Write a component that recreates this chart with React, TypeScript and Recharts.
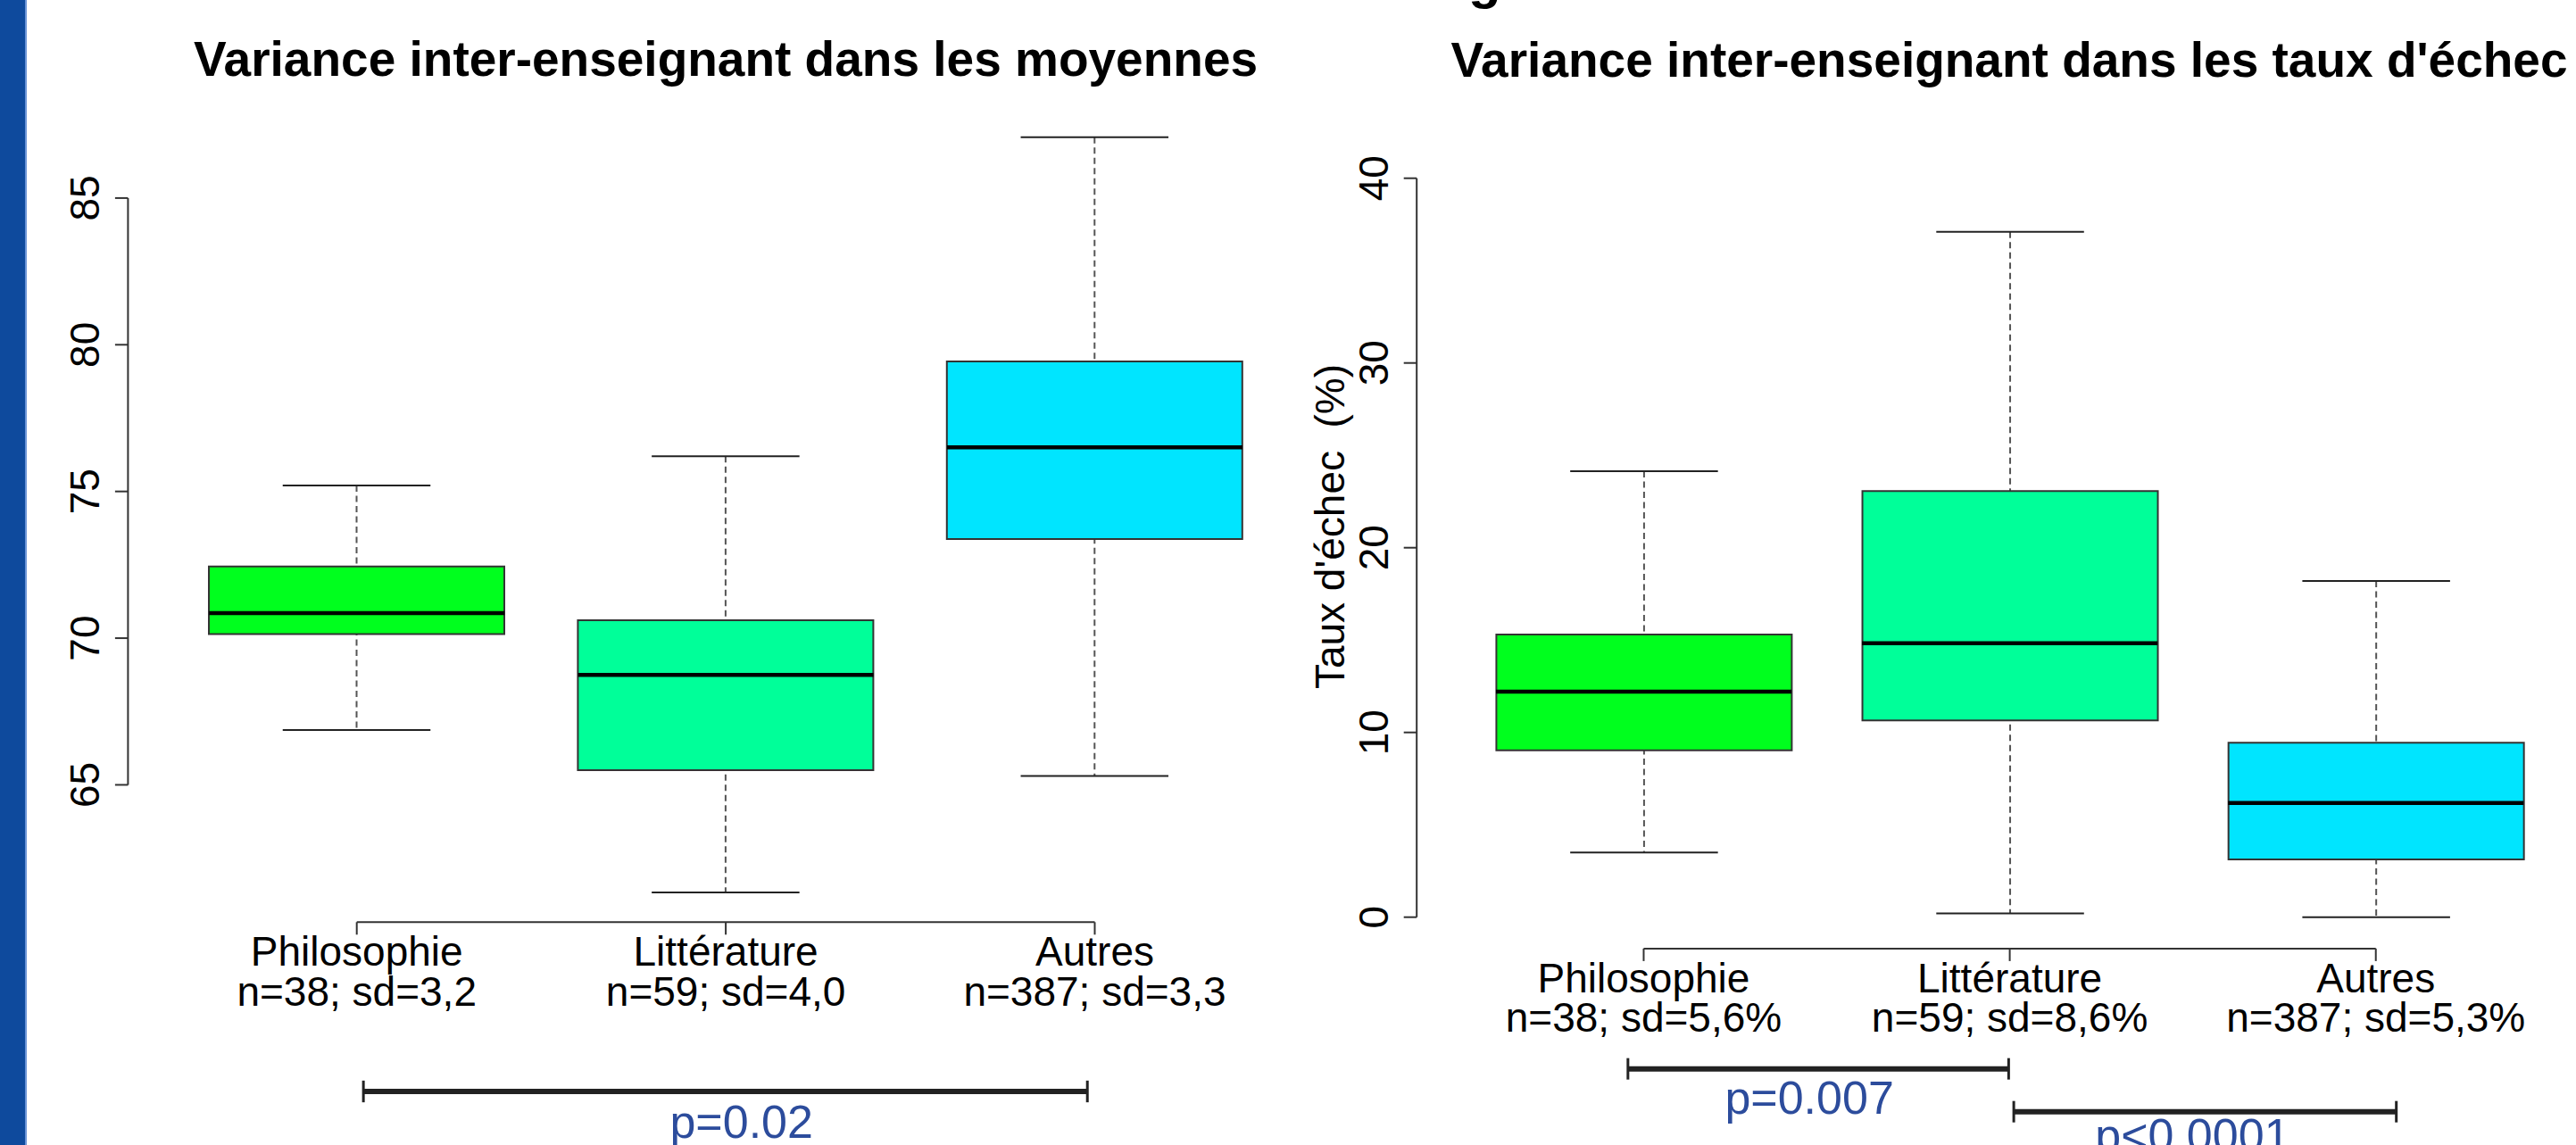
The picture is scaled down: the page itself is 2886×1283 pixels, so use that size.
import React from 'react'
import { ComposedChart, Bar, Scatter, XAxis, YAxis, Cell, ReferenceLine } from 'recharts'

const FONT = '"Liberation Sans", Arial, Helvetica, sans-serif'

const categories = ['Philosophie', 'Littérature', 'Autres']
const boxColors = ['#00ff1e', '#00ff99', '#00e5ff']

// Variance dans les moyennes (left panel)
const moyStats = ['n=38; sd=3,2', 'n=59; sd=4,0', 'n=387; sd=3,3']
const moyMin = [66.87, 61.33, 65.3]
const moyQ1 = [70.14, 65.5, 73.38]
const moyMedian = [70.85, 68.75, 76.5]
const moyQ3 = [72.44, 70.61, 79.43]
const moyMax = [75.2, 76.2, 87.07]
const moyTicks = [65, 70, 75, 80, 85]

// Variance dans les taux d'échec (right panel)
const echStats = ['n=38; sd=5,6%', 'n=59; sd=8,6%', 'n=387; sd=5,3%']
const echMin = [3.5, 0.2, 0]
const echQ1 = [9.03, 10.65, 3.13]
const echMedian = [12.21, 14.83, 6.18]
const echQ3 = [15.3, 23.06, 9.44]
const echMax = [24.14, 37.1, 18.2]
const echTicks = [0, 10, 20, 30, 40]

// p-value brackets (data units)
const moyTests = [{ from: 1.018, to: 2.98, level: 54.55, half: 0.37, p: 'p=0.02', dx: 18, dy: 52 }]
const echTests = [
  { from: 0.957, to: 1.997, level: -8.21, half: 0.58, p: 'p=0.007', dx: -10, dy: 50 },
  { from: 2.011, to: 3.056, level: -10.53, half: 0.58, p: 'p<0.0001', dx: -14, dy: 44 },
]

const X_DOMAIN = [0.38, 3.62]
const BOX_W = 331

function buildRows(mins: number[], q1s: number[], meds: number[], q3s: number[], maxs: number[]) {
  return categories.map((name, i) => ({
    x: i + 1,
    name,
    min: mins[i],
    q1: q1s[i],
    median: meds[i],
    q3: q3s[i],
    max: maxs[i],
  }))
}

const moyData = buildRows(moyMin, moyQ1, moyMedian, moyQ3, moyMax)
const echData = buildRows(echMin, echQ1, echMedian, echQ3, echMax)

function Whisker(props: any) {
  const { x, y, width, height } = props
  if (x == null || y == null) return null
  const top = Math.min(y, y + height)
  const bot = Math.max(y, y + height)
  const cx = x + width / 2
  const cap = width / 4
  return (
    <g>
      <line x1={cx} x2={cx} y1={top} y2={bot} stroke="#555" strokeWidth={2} strokeDasharray="7 4.5" />
      <line x1={cx - cap} x2={cx + cap} y1={top} y2={top} stroke="#222" strokeWidth={2} />
      <line x1={cx - cap} x2={cx + cap} y1={bot} y2={bot} stroke="#222" strokeWidth={2} />
    </g>
  )
}

function MedianMark(props: any) {
  const { cx, cy } = props
  if (cx == null || cy == null) return null
  return <line x1={cx - BOX_W / 2} x2={cx + BOX_W / 2} y1={cy} y2={cy} stroke="#000" strokeWidth={4.5} />
}

function YTick(props: any) {
  const { x, y, payload } = props
  return (
    <g>
      <line x1={x - 14.5} x2={x} y1={y} y2={y} stroke="#333" strokeWidth={2} />
      <text
        x={x - 32}
        y={y}
        transform={`rotate(-90 ${x - 32} ${y})`}
        textAnchor="middle"
        fontSize={46}
        fontFamily={FONT}
        fill="#000"
      >
        {payload.value}
      </text>
    </g>
  )
}

function makeXTick(stats: string[]) {
  return function XTick(props: any) {
    const { x, y, payload } = props
    const i = Math.round(payload.value) - 1
    return (
      <g>
        <text x={x} y={y + 35} textAnchor="middle" fontSize={46} fontFamily={FONT} fill="#000">
          {categories[i]}
        </text>
        <text x={x} y={y + 79.5} textAnchor="middle" fontSize={46} fontFamily={FONT} fill="#000">
          {stats[i]}
        </text>
      </g>
    )
  }
}

function PLabel(props: any) {
  const { viewBox, text, dx, dy } = props
  if (!viewBox) return null
  return (
    <text
      x={viewBox.x + viewBox.width / 2 + dx}
      y={viewBox.y + dy}
      textAnchor="middle"
      fontSize={52}
      fontFamily={FONT}
      fill="#2c4c9c"
    >
      {text}
    </text>
  )
}

interface PanelProps {
  left: number
  width: number
  margin: { top: number; right: number; bottom: number; left: number }
  yAxisWidth: number
  domain: number[]
  ticks: number[]
  data: any[]
  stats: string[]
  tests: typeof echTests
}

function BoxPanel({ left, width, margin, yAxisWidth, domain, ticks, data, stats, tests }: PanelProps) {
  const XTick = makeXTick(stats)
  return (
    <div style={{ position: 'absolute', left, top: 0 }}>
      <ComposedChart width={width} height={1283} data={data} margin={margin}>
        <XAxis
          xAxisId="main"
          dataKey="x"
          type="number"
          domain={X_DOMAIN}
          allowDataOverflow
          ticks={[1, 2, 3]}
          interval={0}
          axisLine={false}
          stroke="#333"
          tickLine={{ stroke: '#333', strokeWidth: 2 }}
          tickSize={14}
          tickMargin={0}
          height={150}
          tick={<XTick />}
        />
        <XAxis xAxisId="w" dataKey="x" type="number" domain={X_DOMAIN} allowDataOverflow hide />
        <YAxis
          type="number"
          domain={domain}
          allowDataOverflow
          ticks={ticks}
          interval={0}
          width={yAxisWidth}
          axisLine={false}
          tickLine={false}
          tickSize={0}
          tickMargin={0}
          tick={<YTick />}
        />
        <Bar
          xAxisId="w"
          dataKey={(d: any) => [d.min, d.max]}
          barSize={BOX_W}
          shape={<Whisker />}
          isAnimationActive={false}
        />
        <Bar
          xAxisId="main"
          dataKey={(d: any) => [d.q1, d.q3]}
          barSize={BOX_W}
          stroke="#333"
          strokeWidth={2}
          isAnimationActive={false}
        >
          {data.map((d, i) => (
            <Cell key={d.name} fill={boxColors[i]} />
          ))}
        </Bar>
        <Scatter xAxisId="main" dataKey="median" shape={<MedianMark />} isAnimationActive={false} />
        <ReferenceLine
          xAxisId="main"
          segment={[
            { x: X_DOMAIN[0], y: ticks[0] },
            { x: X_DOMAIN[0], y: ticks[ticks.length - 1] },
          ]}
          stroke="#333"
          strokeWidth={2}
          ifOverflow="visible"
        />
        <ReferenceLine
          xAxisId="main"
          segment={[
            { x: 1, y: domain[0] },
            { x: 3, y: domain[0] },
          ]}
          stroke="#333"
          strokeWidth={2}
          ifOverflow="visible"
        />
        {tests.map((t) => (
          <ReferenceLine
            key={t.p}
            xAxisId="main"
            segment={[
              { x: t.from, y: t.level },
              { x: t.to, y: t.level },
            ]}
            stroke="#222"
            strokeWidth={6}
            ifOverflow="visible"
            label={<PLabel text={t.p} dx={t.dx} dy={t.dy} />}
          />
        ))}
        {tests.flatMap((t) =>
          [t.from, t.to].map((xv) => (
            <ReferenceLine
              key={`${t.p}-${xv}`}
              xAxisId="main"
              segment={[
                { x: xv, y: t.level - t.half },
                { x: xv, y: t.level + t.half },
              ]}
              stroke="#222"
              strokeWidth={3}
              ifOverflow="visible"
            />
          ))
        )}
      </ComposedChart>
    </div>
  )
}

export default function App() {
  return (
    <div
      style={{
        position: 'absolute',
        left: 0,
        top: 0,
        width: 2886,
        height: 1283,
        overflow: 'hidden',
        background: '#fff',
        fontFamily: FONT,
      }}
    >
      <BoxPanel
        left={0}
        width={1500}
        margin={{ top: 120, right: 17.2, bottom: 99.7, left: 0 }}
        yAxisWidth={143.4}
        domain={[60.32, 88.1]}
        ticks={moyTicks}
        data={moyData}
        stats={moyStats}
        tests={moyTests}
      />
      <BoxPanel
        left={1400}
        width={1516}
        margin={{ top: 166.6, right: 0, bottom: 70.1, left: 0 }}
        yAxisWidth={187.2}
        domain={[-1.7, 41.6]}
        ticks={echTicks}
        data={echData}
        stats={echStats}
        tests={echTests}
      />
      <svg
        width={2886}
        height={1283}
        style={{ position: 'absolute', left: 0, top: 0, pointerEvents: 'none' }}
      >
        <rect x={0} y={0} width={28} height={1283} fill="#0e4a9d" />
        <line x1={29} x2={29} y1={0} y2={1283} stroke="#6b95d8" strokeWidth={2} />
        <text x={1645} y={-2} fontSize={60} fontWeight="bold" fontFamily={FONT} fill="#000">
          g
        </text>
        <text x={813} y={85} textAnchor="middle" fontSize={55} fontWeight="bold" fontFamily={FONT} fill="#000">
          Variance inter-enseignant dans les moyennes
        </text>
        <text x={2251} y={86} textAnchor="middle" fontSize={55} fontWeight="bold" fontFamily={FONT} fill="#000">
          Variance inter-enseignant dans les taux d'échec
        </text>
        <text
          x={1506}
          y={590}
          transform="rotate(-90 1506 590)"
          textAnchor="middle"
          fontSize={46}
          fontFamily={FONT}
          fill="#000"
          style={{ whiteSpace: 'pre' }}
        >
          {"Taux d'échec  (%)"}
        </text>
      </svg>
    </div>
  )
}
